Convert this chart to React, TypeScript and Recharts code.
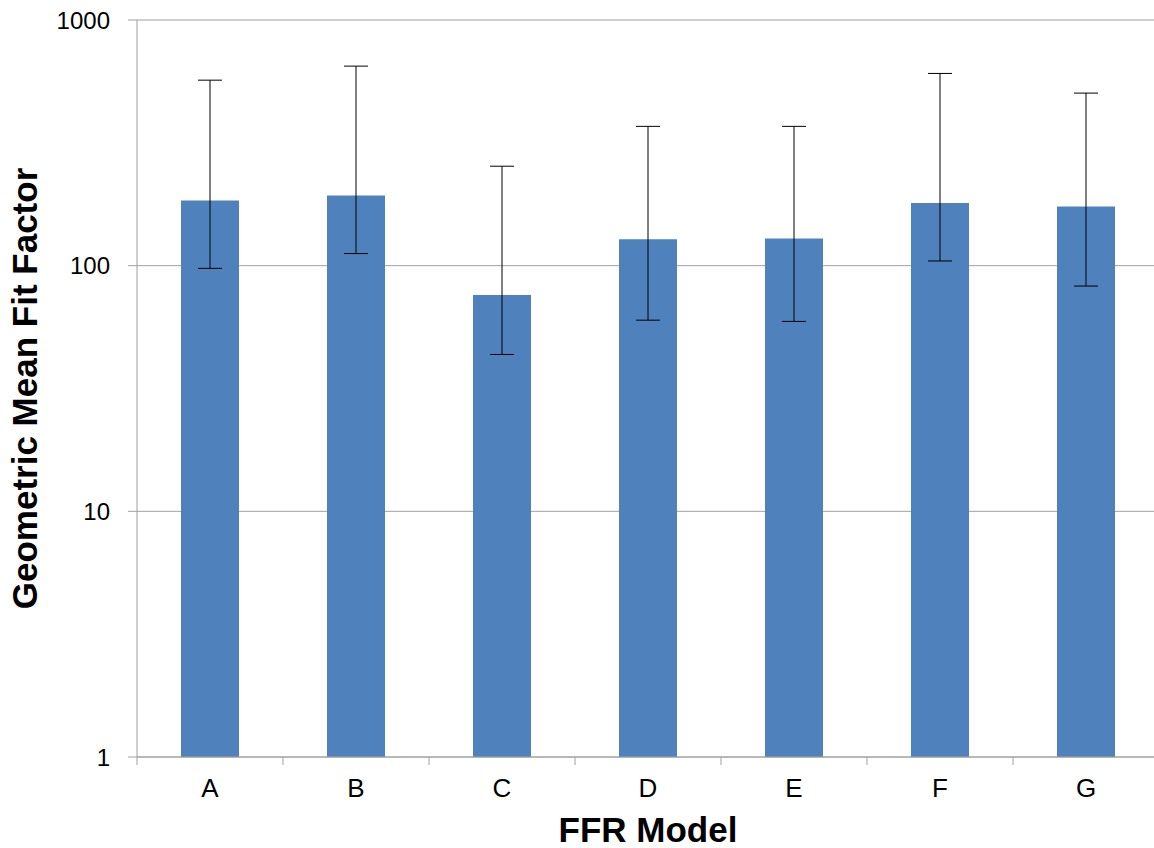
import React from 'react';
import { BarChart, Bar, XAxis, YAxis, CartesianGrid, ErrorBar } from 'recharts';

const models = ['A', 'B', 'C', 'D', 'E', 'F', 'G'];
const meanFitFactor = [184, 193, 76, 128, 129, 180, 174];
const upperLimit = [569, 649, 254, 369, 369, 606, 504];
const lowerLimit = [97.5, 112, 43.5, 60, 59.3, 104.5, 82.6];
const yTicks = [1, 10, 100, 1000];

// ErrorBar wants offsets from the bar value, so turn the limits into [below, above]
const data = models.map((model, i) => ({
  model,
  gmff: meanFitFactor[i],
  err: [meanFitFactor[i] - lowerLimit[i], upperLimit[i] - meanFitFactor[i]],
}));

const AXIS_GRAY = '#a0a0a0';
const FONT = '"Liberation Sans", Arial, sans-serif';

// Excel puts category tick marks between the bars, not under them
const CategoryTick = (props: any) => {
  const { x, y, payload } = props;
  const half = payload && payload.offset ? payload.offset : 73;
  return (
    <g>
      <line x1={x - half} x2={x - half} y1={y - 8} y2={y} stroke={AXIS_GRAY} strokeWidth={1} />
      <text x={x} y={y + 32} textAnchor="middle" fontSize={26} fontFamily={FONT} fill="#000">
        {payload.value}
      </text>
    </g>
  );
};

export default function App() {
  return (
    <div style={{ position: 'fixed', left: 0, top: 0, width: 1154, height: 848, overflow: 'hidden', background: '#fff' }}>
      <BarChart
        width={1169}
        height={848}
        data={data}
        margin={{ top: 20, right: 10, bottom: 0, left: 0 }}
        barSize={58}
      >
        <CartesianGrid horizontal vertical={false} stroke={AXIS_GRAY} />
        <XAxis
          dataKey="model"
          height={91}
          stroke={AXIS_GRAY}
          tickLine={false}
          tickSize={6}
          tickMargin={2}
          tick={<CategoryTick />}
          interval={0}
          label={{
            value: 'FFR Model',
            position: 'insideBottom',
            offset: 6,
            style: { fontSize: 35, fontWeight: 'bold', fontFamily: FONT, fill: '#000' },
          }}
        />
        <YAxis
          scale="log"
          domain={[1, 1000]}
          ticks={yTicks}
          allowDataOverflow
          width={137}
          stroke={AXIS_GRAY}
          tickSize={9}
          tickMargin={18}
          tick={{ fontSize: 24, fontFamily: FONT, fill: '#000' }}
          label={{
            value: 'Geometric Mean Fit Factor',
            angle: -90,
            position: 'insideLeft',
            offset: 25,
            style: { textAnchor: 'middle', fontSize: 35, fontWeight: 'bold', fontFamily: FONT, fill: '#000' },
          }}
        />
        <Bar dataKey="gmff" fill="#4f81bd" isAnimationActive={false}>
          <ErrorBar dataKey="err" width={12} stroke="#000" strokeWidth={1} isAnimationActive={false} />
        </Bar>
      </BarChart>
    </div>
  );
}
